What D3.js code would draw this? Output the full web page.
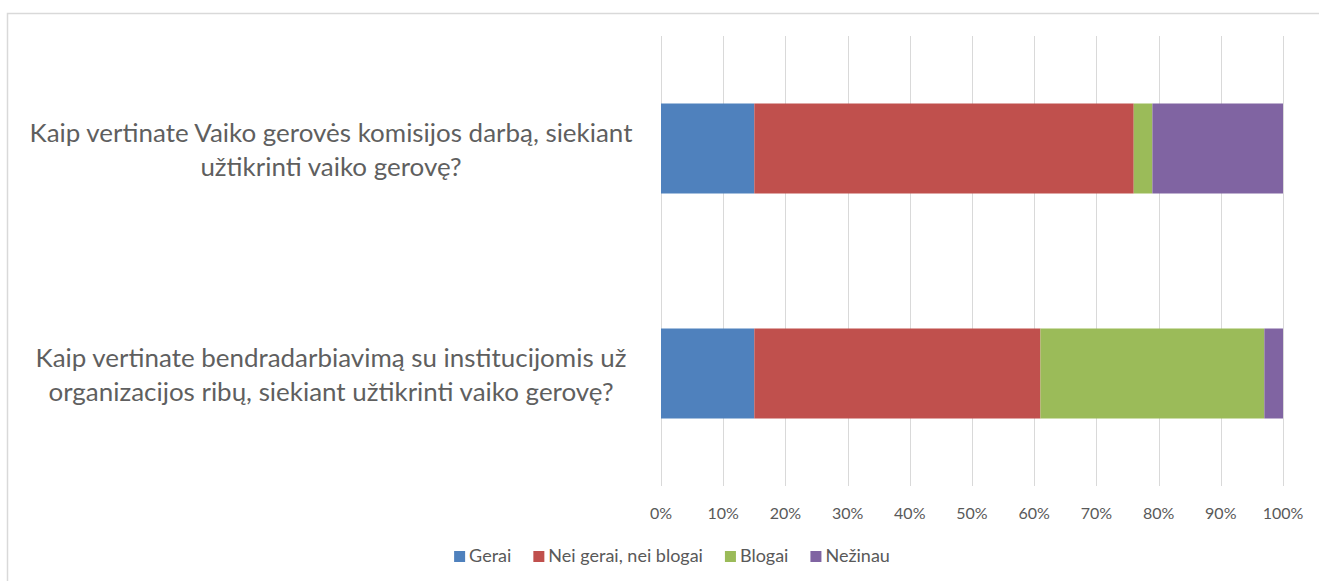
<!DOCTYPE html>
<html>
<head>
<meta charset="utf-8">
<script src="https://cdn.jsdelivr.net/npm/d3@7"></script>
<style>
  html, body { margin: 0; padding: 0; background: #fff; }
  svg { display: block; font-family: Lato, 'Open Sans', sans-serif; }
</style>
</head>
<body>
<div id="app"></div>
<script>
// data (percent)
const categories = ['q1', 'q2']
const categoryLines = [
  ['Kaip vertinate Vaiko gerovės komisijos darbą, siekiant', 'užtikrinti vaiko gerovę?'],
  ['Kaip vertinate bendradarbiavimą su institucijomis už', 'organizacijos ribų, siekiant užtikrinti vaiko gerovę?'],
]
const seriesNames = ['Gerai', 'Nei gerai, nei blogai', 'Blogai', 'Nežinau']
const gerai = [15, 15]
const neiGeraiNeiBlogai = [61, 46]
const blogai = [3, 36]
const nezinau = [21, 3]
const tickValues = [0, 10, 20, 30, 40, 50, 60, 70, 80, 90, 100]
const colors = ['#4F81BD', '#C0504D', '#9BBB59', '#8064A2']

const W = 1319, H = 581
const plot = { left: 661, right: 1283, top: 36, bottom: 486 }

const svg = d3.select('#app').append('svg').attr('width', W).attr('height', H)

// outer chart frame
svg.append('rect')
  .attr('x', 7.5).attr('y', 13.5)
  .attr('width', W).attr('height', H)
  .attr('fill', '#fff').attr('stroke', '#D9D9D9').attr('stroke-width', 1.5)

const x = d3.scaleLinear().domain([0, 100]).range([plot.left, plot.right])
const y = d3.scaleBand().domain(categories).range([plot.top, plot.bottom])
  .paddingInner(0.6).paddingOuter(0.3)

// gridlines
svg.append('g')
  .selectAll('line')
  .data(tickValues)
  .join('line')
  .attr('x1', (d) => Math.round(x(d)) + 0.5)
  .attr('x2', (d) => Math.round(x(d)) + 0.5)
  .attr('y1', plot.top)
  .attr('y2', plot.bottom)
  .attr('stroke', '#D9D9D9')
  .attr('stroke-width', 1)

// tick labels
svg.append('g')
  .selectAll('text')
  .data(tickValues)
  .join('text')
  .attr('x', (d) => x(d))
  .attr('y', 519)
  .attr('text-anchor', 'middle')
  .attr('font-size', 16)
  .attr('fill', '#595959')
  .text((d) => d + '%')

// stacked bars
const table = categories.map((c, i) => ({
  cat: c,
  [seriesNames[0]]: gerai[i],
  [seriesNames[1]]: neiGeraiNeiBlogai[i],
  [seriesNames[2]]: blogai[i],
  [seriesNames[3]]: nezinau[i],
}))
const stacked = d3.stack().keys(seriesNames)(table)

svg.append('g')
  .selectAll('g')
  .data(stacked)
  .join('g')
  .attr('fill', (d, i) => colors[i])
  .selectAll('rect')
  .data((d) => d)
  .join('rect')
  .attr('x', (d) => x(d[0]))
  .attr('width', (d) => x(d[1]) - x(d[0]))
  .attr('y', (d) => y(d.data.cat))
  .attr('height', y.bandwidth())

// category labels, centered lines like the original
const labelCenter = 331
const labelG = svg.append('g')
const probe = labelG.append('text').attr('font-size', 24).text(categoryLines[0][0])
const labelSize = 24 * 603 / probe.node().getComputedTextLength()
probe.remove()

categories.forEach((c, i) => {
  const cy = y(c) + y.bandwidth() / 2
  labelG.append('text')
    .attr('text-anchor', 'middle')
    .attr('font-size', labelSize)
    .attr('fill', '#5f5f5f')
    .selectAll('tspan')
    .data(categoryLines[i])
    .join('tspan')
    .attr('x', labelCenter)
    .attr('y', (d, j) => cy - 7 + j * 34)
    .text((d) => d)
})

// legend
const legendY = 562
const legend = svg.append('g')
const items = legend.selectAll('g')
  .data(seriesNames)
  .join('g')
items.append('rect')
  .attr('width', 11).attr('height', 11)
  .attr('y', legendY - 11)
  .attr('fill', (d, i) => colors[i])
items.append('text')
  .attr('x', 15)
  .attr('y', legendY)
  .attr('font-size', 18)
  .attr('fill', '#595959')
  .text((d) => d)

let widths = []
items.each(function () {
  widths.push(15 + d3.select(this).select('text').node().getComputedTextLength())
})
const gap = 22
const total = d3.sum(widths) + gap * (widths.length - 1)
let cursor = 672 - total / 2
items.attr('transform', (d, i) => {
  const tx = cursor
  cursor += widths[i] + gap
  return `translate(${tx},0)`
})
</script>
</body>
</html>
